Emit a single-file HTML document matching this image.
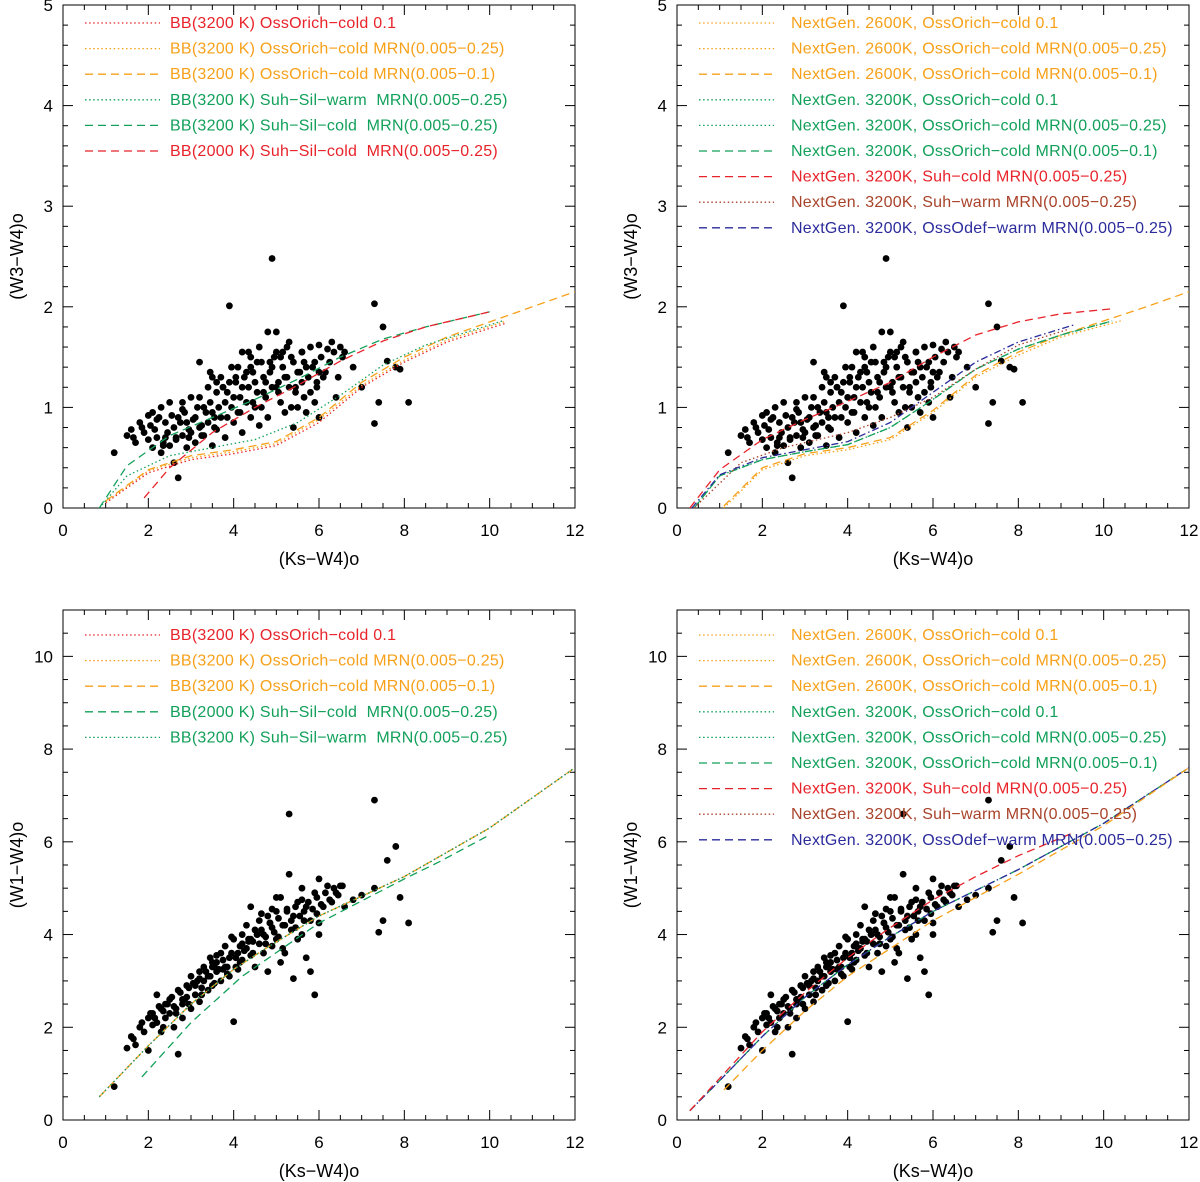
<!DOCTYPE html>
<html><head><meta charset="utf-8"><style>
html,body{margin:0;padding:0;background:#fff}
svg{display:block;font-family:"Liberation Sans",sans-serif}
</style></head><body>
<svg id="fig" width="1200" height="1182" viewBox="0 0 1200 1182" xmlns="http://www.w3.org/2000/svg"></svg>
<script>
// ---- data: observed stars ----
const ksw4 = [1.2,1.5,1.6,1.7,1.8,1.9,2.0,2.0,2.1,2.1,2.2,2.2,2.3,2.3,2.4,2.4,2.5,2.5,2.6,2.6,2.7,2.7,2.8,2.8,2.9,2.9,3.0,3.0,3.1,3.1,3.2,3.2,3.3,3.3,3.4,3.4,3.5,3.5,3.6,3.6,3.7,3.7,3.8,3.8,3.9,3.9,4.0,4.0,4.1,4.1,4.2,4.2,4.3,4.3,4.4,4.4,4.5,4.5,4.6,4.6,4.7,4.7,4.8,4.8,4.9,4.9,5.0,5.0,5.1,5.1,5.2,5.2,5.3,5.3,5.4,5.4,5.5,5.5,5.6,5.6,5.7,5.7,5.8,5.8,5.9,5.9,6.0,6.0,6.1,6.2,6.3,6.4,6.5,6.6,6.8,7.0,7.3,7.3,7.4,7.5,7.6,7.8,7.9,8.1,4.4,3.5,5.0,4.2,
 1.65,1.85,2.05,2.15,2.25,2.35,2.45,2.55,2.65,2.75,2.85,2.95,3.05,3.15,3.25,3.35,3.45,3.55,3.65,3.75,3.85,3.95,4.05,4.15,4.25,4.35,4.45,4.55,4.65,4.75,4.85,4.95,5.05,5.15,5.25,5.35,5.45,5.55,5.65,5.75,5.85,5.95,6.05,6.15,6.25,6.35,6.45,6.55,2.35,2.65,2.95,3.25,3.55,3.85,4.15,4.45,4.75,5.05,5.35,5.65,5.95,3.45,3.95,4.35,4.85,5.25,4.05,4.55,5.15,3.75,4.65,5.45,6.0,5.6,4.9,3.2,2.8,3.6];
const w3w4 = [0.55,0.72,0.78,0.65,0.85,0.75,0.92,0.68,0.95,0.6,0.88,0.7,1.0,0.55,0.85,0.7,1.05,0.62,0.8,0.45,0.3,0.9,0.72,0.98,0.6,0.85,1.1,0.75,0.9,0.65,1.45,0.8,1.0,0.72,1.2,0.85,0.95,0.62,1.15,0.78,1.3,0.9,1.05,0.7,2.01,1.25,1.1,0.85,1.4,0.95,1.2,0.75,1.35,1.05,1.5,0.9,1.25,1.0,1.6,0.82,1.3,1.15,1.75,0.9,2.48,1.4,1.75,1.2,1.05,1.5,1.3,0.95,1.65,1.2,1.45,0.8,1.35,1.0,1.55,1.25,1.4,0.95,1.6,1.15,1.05,1.45,0.9,1.62,1.3,1.58,1.65,1.1,1.6,1.55,1.4,1.2,2.03,0.84,1.05,1.8,1.46,1.4,1.38,1.05,1.4,1.3,1.55,1.55,
 0.7,0.8,0.82,0.78,0.9,0.65,0.75,0.92,0.7,0.85,0.95,0.78,0.88,1.0,0.82,0.95,1.05,0.9,1.0,1.2,1.15,1.0,1.25,1.1,1.3,1.2,1.35,1.15,1.45,1.25,1.35,1.5,1.25,1.4,1.3,1.5,1.2,1.35,1.45,1.3,1.4,1.25,1.5,1.35,1.45,1.55,1.3,1.5,0.62,0.68,0.7,0.72,0.8,0.9,0.95,1.05,1.1,1.15,1.0,1.1,1.2,1.35,1.4,1.55,1.45,1.6,1.3,1.45,1.55,1.2,1.0,1.15,1.35,1.55,1.2,1.1,1.05,1.25];
const w1w4 = [0.72,1.55,1.8,1.62,2.0,1.9,2.2,1.5,2.05,2.3,2.7,2.1,2.4,1.9,2.5,2.2,2.3,2.6,2.0,2.45,1.42,2.8,2.5,2.2,2.65,2.9,2.4,3.1,2.7,2.9,3.2,2.55,3.0,3.3,2.8,3.1,3.4,2.9,3.2,3.55,3.0,3.6,3.3,3.75,3.5,3.1,3.9,2.12,3.6,3.25,4.0,3.45,3.7,4.2,3.55,3.9,4.1,3.3,3.8,4.3,3.6,4.0,4.4,3.2,4.15,3.75,4.5,3.9,4.8,3.4,4.2,3.6,5.3,6.6,4.4,3.05,4.7,3.9,4.0,5.0,3.5,4.6,4.3,3.2,2.7,4.9,4.25,5.2,4.6,5.05,4.7,4.9,5.05,4.6,4.75,4.85,6.9,5.0,4.05,4.3,5.6,5.9,4.8,4.25,4.6,3.3,4.8,3.8,
 1.75,2.1,2.3,2.2,2.45,2.35,2.5,2.65,2.4,2.75,2.6,2.85,2.95,3.0,2.85,3.2,3.1,3.35,3.25,3.45,3.3,3.6,3.5,3.75,3.65,3.9,3.85,4.0,4.1,3.95,4.25,4.05,4.35,4.2,4.5,4.3,4.6,4.4,4.5,4.7,4.55,4.8,4.65,4.9,4.75,5.0,4.85,5.05,2.0,2.3,2.5,2.7,2.95,3.15,3.4,3.6,3.8,3.95,4.1,4.3,4.45,3.5,3.95,3.85,4.25,4.55,3.3,4.0,3.7,3.25,4.45,4.15,4.0,4.75,4.55,3.05,2.6,3.4];

// ---- model curves ----
// Panel 1
const p1_orDotRed_x=[1.0,2,3,4,5,6,7,8,9,10.4]; const p1_orDotRed_y=[0.05,0.35,0.48,0.54,0.62,0.85,1.2,1.45,1.65,1.84];
const p1_orDot_x=[1.0,2,3,4,5,6,7,8,9,10.4]; const p1_orDot_y=[0.06,0.37,0.5,0.56,0.64,0.88,1.22,1.47,1.67,1.86];
const p1_orDash_x=[1.0,2,3,4,5,6,7,8,9,10,11,12]; const p1_orDash_y=[0.07,0.38,0.52,0.58,0.66,0.9,1.25,1.5,1.7,1.85,2.0,2.15];
const p1_suhWarm_x=[0.85,1.5,2.5,3.5,4.5,5.5,6.5,7.5,8.5,10.3]; const p1_suhWarm_y=[0.0,0.32,0.52,0.6,0.68,0.85,1.12,1.42,1.62,1.86];
const p1_suhCold_x=[0.85,1.5,2.5,3.5,4.5,5.5,6.5,7.5,8.5,10.0]; const p1_suhCold_y=[0.0,0.42,0.72,0.9,1.08,1.28,1.5,1.68,1.8,1.95];
const p1_bb2000_x=[1.9,2.5,3.5,4.5,5.5,6.5,7.5,8.5,10.0]; const p1_bb2000_y=[0.1,0.4,0.75,1.0,1.22,1.46,1.66,1.8,1.95];
// Panel 2
const p2_ng26_x=[1.1,2,3,4,5,6,7,8,9,10.4]; const p2_ng26_y=[0.0,0.38,0.52,0.58,0.68,0.95,1.3,1.52,1.7,1.86];
const p2_ng26b_x=[1.1,2,3,4,5,6,7,8,9,10,11,12]; const p2_ng26b_y=[0.02,0.4,0.54,0.6,0.7,0.97,1.32,1.55,1.72,1.86,2.0,2.15];
const p2_ng32_x=[0.4,1,2,3,4,5,6,7,8,9,10.2]; const p2_ng32_y=[0.0,0.32,0.48,0.56,0.63,0.8,1.08,1.38,1.58,1.72,1.86];
const p2_suhCold_x=[0.3,1,2,3,4,5,6,7,8,9,10.2]; const p2_suhCold_y=[0.0,0.38,0.68,0.88,1.06,1.25,1.5,1.72,1.85,1.93,1.98];
const p2_suhWarm_x=[0.4,1.5,2.5,4,5,6,7,8,9.2]; const p2_suhWarm_y=[0.0,0.45,0.6,0.75,0.9,1.1,1.38,1.62,1.78];
const p2_odef_x=[0.35,1,2,3,4,5,6,7,8,9.3]; const p2_odef_y=[0.0,0.33,0.5,0.58,0.66,0.85,1.15,1.45,1.65,1.82];
// Panel 3
const p3_or_x=[0.85,2,3,4,4.8,6,8,8.8,10,12]; const p3_or_y=[0.5,1.6,2.5,3.25,3.73,4.4,5.25,5.67,6.3,7.6];
const p3_bb2000_x=[1.85,3,4.2,6,8,8.8,10]; const p3_bb2000_y=[0.93,2.1,3.1,4.25,5.2,5.56,6.15];
// Panel 4
const p4_ng26_x=[1.1,2,3,4,5,6,8,10,12]; const p4_ng26_y=[0.65,1.5,2.35,3.1,3.7,4.3,5.3,6.35,7.6];
const p4_ng32_x=[0.3,1,2,3,4,5,6,8,10,12]; const p4_ng32_y=[0.2,0.85,1.8,2.65,3.35,3.95,4.5,5.4,6.4,7.6];
const p4_suhCold_x=[0.3,1,2,3,4,5,6,7,8,9.3]; const p4_suhCold_y=[0.2,0.9,1.9,2.75,3.5,4.15,4.75,5.25,5.7,6.2];

const xTicks=[0,2,4,6,8,10,12];
const yTicksTop=[0,1,2,3,4,5];
const yTicksBot=[0,2,4,6,8,10];

const RED="#e8232a", ORA="#f7a11a", GRN="#12a05a", BRN="#a8432a", BLU="#2b2b9c";
const DOT="1.5,2.6", DASH="8,5", DASHDOT="7,3,1.5,3";

const NS="http://www.w3.org/2000/svg";
const svg=document.getElementById('fig');
function mk(tag,attrs,parent){const e=document.createElementNS(NS,tag);for(const k in attrs)e.setAttribute(k,attrs[k]);(parent||svg).appendChild(e);return e;}

function panel(cfg){
  const g=mk('g',{});
  
  
  const sx=v=>cfg.l+(v-0)/(12-0)*(cfg.r-cfg.l);
  const sy=v=>cfg.b-(v-cfg.ymin)/(cfg.ymax-cfg.ymin)*(cfg.b-cfg.t);
  const fr=mk('rect',{x:cfg.l,y:cfg.t,width:cfg.r-cfg.l,height:cfg.b-cfg.t,fill:'none',stroke:'#000','stroke-width':1},g);
  
  
  for(let v=0;v<=12.001;v+=0.5){
    const major=Math.abs(v/2-Math.round(v/2))<1e-6, len=major?10:5, X=sx(v);
    mk('line',{x1:X,y1:cfg.b,x2:X,y2:cfg.b-len,stroke:'#000'},g);
    mk('line',{x1:X,y1:cfg.t,x2:X,y2:cfg.t+len,stroke:'#000'},g);
  }
  xTicks.forEach(v=>{
    const t=mk('text',{x:sx(v),y:cfg.b+28,'text-anchor':'middle','font-size':17,fill:'#000'},g);
    t.textContent=v;
    
    
  });
  for(let v=cfg.ymin;v<=cfg.ymax+1e-6;v+=cfg.yminor){
    const major=Math.abs(v/cfg.ystep-Math.round(v/cfg.ystep))<1e-6, len=major?10:5, Y=sy(v);
    mk('line',{x1:cfg.l,y1:Y,x2:cfg.l+len,y2:Y,stroke:'#000'},g);
    mk('line',{x1:cfg.r,y1:Y,x2:cfg.r-len,y2:Y,stroke:'#000'},g);
  }
  cfg.yticks.forEach(v=>{
    const t=mk('text',{x:cfg.l-10,y:sy(v)+6,'text-anchor':'end','font-size':17,fill:'#000'},g);
    t.textContent=v;
    
    
  });
  const xt=mk('text',{x:(cfg.l+cfg.r)/2,y:cfg.b+57,'text-anchor':'middle','font-size':18,fill:'#000'},g);
  xt.textContent='(Ks−W4)o';
  
  
  const yc=(cfg.t+cfg.b)/2, yx=cfg.l-40;
  const yt=mk('text',{x:yx,y:yc,'text-anchor':'middle','font-size':18,fill:'#000',transform:`rotate(-90 ${yx} ${yc})`},g);
  yt.textContent=cfg.ytitle;
  
  
  const cid='clip'+cfg.name;
  const cp=mk('clipPath',{id:cid},g); mk('rect',{x:cfg.l,y:cfg.t,width:cfg.r-cfg.l,height:cfg.b-cfg.t},cp);
  const pg=mk('g',{'clip-path':`url(#${cid})`},g);
  const ys=cfg.ydata;
  for(let i=0;i<ksw4.length;i++){
    const c=mk('circle',{cx:sx(ksw4[i]),cy:sy(ys[i]),r:3.4,fill:'#000'},pg);
    
    
  }
  cfg.curves.forEach(cv=>{
    const d=cv.x.map((v,i)=>(i?'L':'M')+sx(v).toFixed(1)+','+sy(cv.y[i]).toFixed(1)).join(' ');
    const p=mk('path',{d:d,fill:'none',stroke:cv.c,'stroke-width':1.3,'stroke-dasharray':cv.dash,'stroke-linejoin':'round'},pg);
    
    
  });
  cfg.legend.forEach((lg,i)=>{
    const Y=cfg.t+cfg.legTop+i*25.6;
    const row=mk('g',{},g);
    
    
    mk('line',{x1:cfg.l+22,y1:Y-5,x2:cfg.l+97,y2:Y-5,stroke:lg.c,'stroke-width':1.3,'stroke-dasharray':lg.dash},row);
    const t=mk('text',{x:cfg.l+cfg.legX,y:Y,'font-size':16,'letter-spacing':0.25,fill:lg.c,style:'white-space:pre'},row);
    t.textContent=lg.t;
  });
}

panel({name:'panel-w3w4-bb',l:63,r:575,t:5,b:508,ymin:0,ymax:5,ystep:1,yminor:0.2,yticks:yTicksTop,ytitle:'(W3−W4)o',ydata:w3w4,legTop:23,legX:107,
 curves:[
  {x:p1_orDotRed_x,y:p1_orDotRed_y,c:RED,dash:DOT},
  {x:p1_orDot_x,y:p1_orDot_y,c:ORA,dash:DOT},
  {x:p1_orDash_x,y:p1_orDash_y,c:ORA,dash:DASH},
  {x:p1_suhWarm_x,y:p1_suhWarm_y,c:GRN,dash:DOT},
  {x:p1_suhCold_x,y:p1_suhCold_y,c:GRN,dash:DASH},
  {x:p1_bb2000_x,y:p1_bb2000_y,c:RED,dash:DASH}],
 legend:[
  {t:'BB(3200 K) OssOrich−cold 0.1',c:RED,dash:DOT},
  {t:'BB(3200 K) OssOrich−cold MRN(0.005−0.25)',c:ORA,dash:DOT},
  {t:'BB(3200 K) OssOrich−cold MRN(0.005−0.1)',c:ORA,dash:DASH},
  {t:'BB(3200 K) Suh−Sil−warm  MRN(0.005−0.25)',c:GRN,dash:DOT},
  {t:'BB(3200 K) Suh−Sil−cold  MRN(0.005−0.25)',c:GRN,dash:DASH},
  {t:'BB(2000 K) Suh−Sil−cold  MRN(0.005−0.25)',c:RED,dash:DASH}]});

const ngLegend=[
  {t:'NextGen. 2600K, OssOrich−cold 0.1',c:ORA,dash:DOT},
  {t:'NextGen. 2600K, OssOrich−cold MRN(0.005−0.25)',c:ORA,dash:DOT},
  {t:'NextGen. 2600K, OssOrich−cold MRN(0.005−0.1)',c:ORA,dash:DASH},
  {t:'NextGen. 3200K, OssOrich−cold 0.1',c:GRN,dash:DOT},
  {t:'NextGen. 3200K, OssOrich−cold MRN(0.005−0.25)',c:GRN,dash:DOT},
  {t:'NextGen. 3200K, OssOrich−cold MRN(0.005−0.1)',c:GRN,dash:DASH},
  {t:'NextGen. 3200K, Suh−cold MRN(0.005−0.25)',c:RED,dash:DASH},
  {t:'NextGen. 3200K, Suh−warm MRN(0.005−0.25)',c:BRN,dash:DOT},
  {t:'NextGen. 3200K, OssOdef−warm MRN(0.005−0.25)',c:BLU,dash:DASH}];

panel({name:'panel-w3w4-nextgen',l:677,r:1189,t:5,b:508,ymin:0,ymax:5,ystep:1,yminor:0.2,yticks:yTicksTop,ytitle:'(W3−W4)o',ydata:w3w4,legTop:23,legX:114,
 curves:[
  {x:p2_ng26_x,y:p2_ng26_y,c:ORA,dash:DOT},
  {x:p2_ng26b_x,y:p2_ng26b_y,c:ORA,dash:DASH},
  {x:p2_ng32_x,y:p2_ng32_y,c:GRN,dash:DOT},
  {x:p2_ng32_x,y:p2_ng32_y,c:GRN,dash:DASH},
  {x:p2_suhWarm_x,y:p2_suhWarm_y,c:BRN,dash:DOT},
  {x:p2_odef_x,y:p2_odef_y,c:BLU,dash:DASHDOT},
  {x:p2_suhCold_x,y:p2_suhCold_y,c:RED,dash:DASH}],
 legend:ngLegend});

panel({name:'panel-w1w4-bb',l:63,r:575,t:610,b:1120,ymin:0,ymax:11,ystep:2,yminor:0.5,yticks:yTicksBot,ytitle:'(W1−W4)o',ydata:w1w4,legTop:30,legX:107,
 curves:[
  {x:p3_bb2000_x,y:p3_bb2000_y,c:GRN,dash:DASH},
  {x:p3_or_x,y:p3_or_y,c:RED,dash:DOT},
  {x:p3_or_x,y:p3_or_y,c:ORA,dash:DASH},
  {x:p3_or_x,y:p3_or_y,c:GRN,dash:DOT}],
 legend:[
  {t:'BB(3200 K) OssOrich−cold 0.1',c:RED,dash:DOT},
  {t:'BB(3200 K) OssOrich−cold MRN(0.005−0.25)',c:ORA,dash:DOT},
  {t:'BB(3200 K) OssOrich−cold MRN(0.005−0.1)',c:ORA,dash:DASH},
  {t:'BB(2000 K) Suh−Sil−cold  MRN(0.005−0.25)',c:GRN,dash:DASH},
  {t:'BB(3200 K) Suh−Sil−warm  MRN(0.005−0.25)',c:GRN,dash:DOT}]});

panel({name:'panel-w1w4-nextgen',l:677,r:1189,t:610,b:1120,ymin:0,ymax:11,ystep:2,yminor:0.5,yticks:yTicksBot,ytitle:'(W1−W4)o',ydata:w1w4,legTop:30,legX:114,
 curves:[
  {x:p4_ng32_x,y:p4_ng32_y,c:GRN,dash:DASH},
  {x:p4_ng32_x,y:p4_ng32_y,c:BLU,dash:DASHDOT},
  {x:p4_suhCold_x,y:p4_suhCold_y,c:RED,dash:DASH},
  {x:p4_ng26_x,y:p4_ng26_y,c:ORA,dash:DASH}],
 legend:ngLegend});
</script>
</body></html>
